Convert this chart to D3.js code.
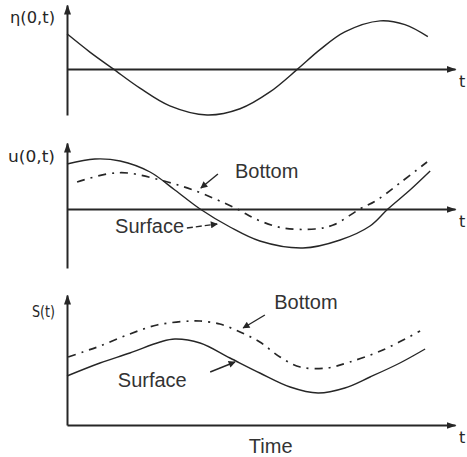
<!DOCTYPE html>
<html>
<head>
<meta charset="utf-8">
<script src="https://cdn.jsdelivr.net/npm/d3@7"></script>
<style>
  html, body { margin: 0; padding: 0; background: #fff; }
  svg { display: block; }
</style>
</head>
<body>
<svg id="chart" width="467" height="457"></svg>
<script>
// ---------- DATA ----------
// Panel 1: eta(0,t)
const etaT   = [0, 5.9, 11.9, 18.8, 26.5, 36.1, 44.6, 52.3, 59.5, 65.2, 71.6, 80.7, 87.1, 93.0];
const etaV   = [0.73, 0.35, 0, -0.40, -0.77, -0.96, -0.83, -0.48, 0, 0.40, 0.77, 1.0, 0.92, 0.67];

// Panel 2: u(0,t)
const uSurfT = [0, 7.2, 13.7, 21.4, 27.8, 34.3, 42.0, 49.7, 60.8, 70.4, 78.1, 82.7, 88.4, 93.6];
const uSurfV = [0.90, 1.0, 0.96, 0.74, 0.38, 0, -0.36, -0.64, -0.78, -0.62, -0.34, 0, 0.38, 0.76];
const uBotT  = [2.6, 10.3, 15.7, 24.0, 32.5, 43.3, 49.2, 55.7, 63.9, 68.6, 75.5, 79.9, 85.8, 92.8];
const uBotV  = [0.54, 0.70, 0.72, 0.58, 0.38, 0.02, -0.22, -0.38, -0.40, -0.32, 0, 0.18, 0.52, 0.94];

// Panel 3: S(t)
const sSurfT = [0, 8.5, 16.2, 24.0, 27.8, 34.3, 42.0, 49.7, 57.5, 64.7, 71.6, 78.1, 85.8, 92.3];
const sSurfV = [0.49, 0.62, 0.72, 0.83, 0.86, 0.82, 0.67, 0.52, 0.38, 0.32, 0.37, 0.48, 0.62, 0.76];
const sBotT  = [0.3, 4.1, 8.5, 15.5, 23.2, 31.7, 34.3, 39.4, 44.6, 49.7, 54.9, 60.1, 67.0, 72.9, 81.4, 91.0];
const sBotV  = [0.68, 0.73, 0.79, 0.90, 1.00, 1.04, 1.04, 1.01, 0.93, 0.83, 0.68, 0.58, 0.57, 0.63, 0.75, 0.94];

// Labels
const yLabels = ["η(0,t)", "u(0,t)", "S(t)"];
const xLabel = "t";
const timeLabel = "Time";
const seriesNames = ["Bottom", "Surface"];

// ---------- LAYOUT ----------
const svg = d3.select("#chart");
const ink = "#262626";
const x = d3.scaleLinear().domain([0, 100]).range([67, 455]);

const panels = [
  { y: d3.scaleLinear().domain([-0.96, 1.33]).range([115, 5]), label: yLabels[0], labelY: 23, labelW: 45 },
  { y: d3.scaleLinear().domain([-1.18, 1.32]).range([268, 143]), label: yLabels[1], labelY: 162, labelW: 47 },
  { y: d3.scaleLinear().domain([0, 1.30]).range([425, 295]), label: yLabels[2], labelY: 317, labelW: 23 }
];

// arrow marker
const defs = svg.append("defs");
defs.append("marker")
  .attr("id", "axArrow").attr("viewBox", "0 0 10 10")
  .attr("refX", 9).attr("refY", 5)
  .attr("markerWidth", 5).attr("markerHeight", 5)
  .attr("markerUnits", "strokeWidth")
  .attr("orient", "auto")
  .append("path").attr("d", "M0,1.5L10,5L0,8.5Z").attr("fill", ink);
defs.append("marker")
  .attr("id", "annArrow").attr("viewBox", "0 0 10 10")
  .attr("refX", 9).attr("refY", 5)
  .attr("markerWidth", 6).attr("markerHeight", 5)
  .attr("markerUnits", "strokeWidth")
  .attr("orient", "auto")
  .append("path").attr("d", "M0,0L10,5L0,10Z").attr("fill", ink);

const line = d3.line()
  .x(d => x(d[0])).y(d => 0)
  .curve(d3.curveCatmullRom.alpha(0.5));

function drawAxes(p) {
  // x axis at zero
  const gx = svg.append("g")
    .attr("transform", `translate(0,${p.y(0)})`)
    .call(d3.axisBottom(x).tickValues([]).tickSizeOuter(0));
  gx.select(".domain").attr("stroke", ink).attr("stroke-width", 2)
    .attr("marker-end", "url(#axArrow)");
  svg.append("text").attr("x", 459).attr("y", p.y(0) + 18)
    .attr("font-family", "DejaVu Sans").attr("font-size", 16).attr("fill", ink)
    .text(xLabel);
  // y axis
  const gy = svg.append("g")
    .attr("transform", `translate(${x(0)},0)`)
    .call(d3.axisLeft(p.y).tickValues([]).tickSizeOuter(0));
  gy.select(".domain").attr("stroke", ink).attr("stroke-width", 2)
    .attr("marker-end", "url(#axArrow)");
  svg.append("text").attr("x", 55 - p.labelW).attr("y", p.labelY)
    .attr("font-family", "DejaVu Sans").attr("font-size", 16).attr("fill", ink)
    .attr("textLength", p.labelW).attr("lengthAdjust", "spacingAndGlyphs")
    .text(p.label);
}

function drawSeries(p, ts, vs, dashed) {
  const pts = ts.map((t, i) => [t, vs[i]]);
  const gen = d3.line().x(d => x(d[0])).y(d => p.y(d[1]))
    .curve(d3.curveCatmullRom.alpha(0.5));
  svg.append("path").datum(pts)
    .attr("d", gen)
    .attr("fill", "none")
    .attr("stroke", ink)
    .attr("stroke-width", dashed ? 1.7 : 1.4)
    .attr("stroke-dasharray", dashed ? "8,6,2,6" : null);
}

function annotate(p, name, lx, ly, a, dashed) {
  svg.append("text").attr("x", x(lx)).attr("y", p.y(ly))
    .attr("font-family", "Liberation Sans, Arial, sans-serif")
    .attr("font-size", 20).attr("fill", "#333")
    .text(name);
  svg.append("line")
    .attr("x1", x(a[0])).attr("y1", p.y(a[1]))
    .attr("x2", x(a[2])).attr("y2", p.y(a[3]))
    .attr("stroke", ink).attr("stroke-width", 1.4)
    .attr("stroke-dasharray", dashed ? "6,3" : null)
    .attr("marker-end", "url(#annArrow)");
}

panels.forEach(drawAxes);

drawSeries(panels[0], etaT, etaV, false);

drawSeries(panels[1], uSurfT, uSurfV, false);
drawSeries(panels[1], uBotT, uBotV, true);
annotate(panels[1], seriesNames[0], 43.3, 0.62, [38.9, 0.70, 34.5, 0.42], false);
annotate(panels[1], seriesNames[1], 12.4, -0.48, [30.9, -0.38, 38.7, -0.30], true);

drawSeries(panels[2], sSurfT, sSurfV, false);
drawSeries(panels[2], sBotT, sBotV, true);
annotate(panels[2], seriesNames[0], 53.4, 1.16, [51.0, 1.10, 45.4, 0.97], false);
annotate(panels[2], seriesNames[1], 13.1, 0.38, [36.9, 0.53, 43.3, 0.63], false);

svg.append("text").attr("x", x(52.5)).attr("y", 453)
  .attr("text-anchor", "middle")
  .attr("font-family", "Liberation Sans, Arial, sans-serif")
  .attr("font-size", 20).attr("fill", "#333")
  .text(timeLabel);
</script>
</body>
</html>
